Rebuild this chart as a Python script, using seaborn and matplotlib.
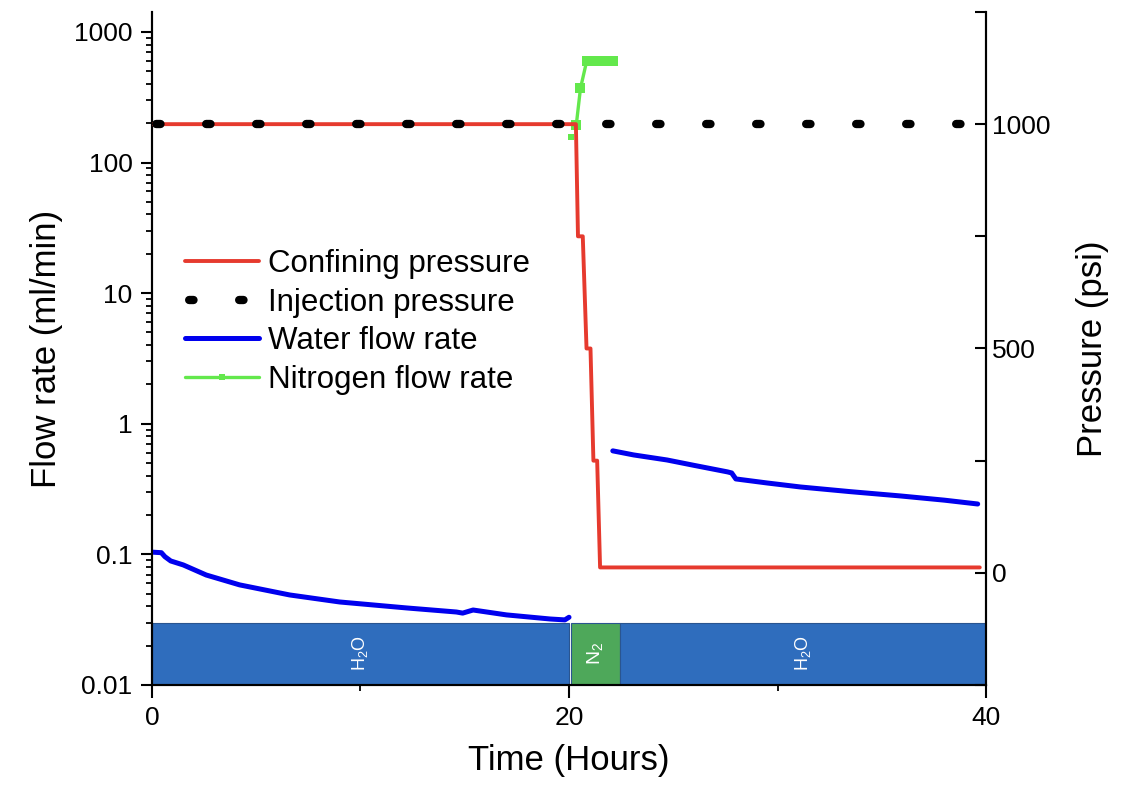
import numpy as np
import pandas as pd
import matplotlib
matplotlib.use("Agg")
import matplotlib.pyplot as plt
from matplotlib.lines import Line2D
from matplotlib.ticker import LogLocator, MultipleLocator, NullFormatter, FixedLocator
import seaborn as sns

# ---- data -------------------------------------------------------------
# water flow rate (ml/min), before and after the nitrogen stage
water_t1 = [0.0, 0.45, 0.62, 0.9, 1.5, 2.6, 4.2, 6.6, 9.0, 12.2, 14.6, 14.9,
            15.4, 17.0, 19.1, 19.8, 20.0]
water_q1 = [0.104, 0.103, 0.096, 0.089, 0.083, 0.0695, 0.0584, 0.0489, 0.0432,
            0.0389, 0.0362, 0.0355, 0.0375, 0.0344, 0.032, 0.0315, 0.033]
water_t2 = [22.1, 23.1, 24.7, 26.0, 27.6, 27.8, 28.0, 29.5, 31.1, 33.5, 35.9,
            38.0, 39.6]
water_q2 = [0.62, 0.577, 0.528, 0.48, 0.428, 0.42, 0.378, 0.352, 0.328, 0.302,
            0.280, 0.26, 0.243]

# nitrogen flow rate (ml/min)
nitrogen_t0 = [20.1]
nitrogen_q0 = [157]
nitrogen_t = [20.35, 20.55, 20.85, 21.1, 21.35, 21.6, 21.85, 22.1]
nitrogen_q = [195, 370, 600, 600, 600, 600, 600, 600]

# pressures (psi)
confining_t = [0.0, 20.33, 20.43, 20.66, 20.84, 21.03, 21.17, 21.35, 21.49, 39.7]
confining_p = [1000, 1000, 750, 750, 500, 500, 250, 250, 12, 12]
injection_t = [0.0, 40.0]
injection_p = [1000, 1000]

# injected fluid stages shown as a band along the bottom
phase_labels = [r"H$_\mathregular{2}$O", r"N$_\mathregular{2}$", r"H$_\mathregular{2}$O"]
phase_start = [0.0, 20.1, 22.45]
phase_end = [20.0, 22.45, 40.0]
phase_colors = ["#2f6dbd", "#4ea85a", "#2f6dbd"]
phase_fontsize = [13, 14, 13]

legend_labels = ["Confining pressure", "Injection pressure",
                 "Water flow rate", "Nitrogen flow rate"]

# ---- style ------------------------------------------------------------
sns.set_theme(style="ticks")
plt.rcParams["font.family"] = ["Liberation Sans", "DejaVu Sans"]
plt.rcParams["mathtext.fontset"] = "custom"
plt.rcParams["mathtext.rm"] = "Liberation Sans"
plt.rcParams["axes.linewidth"] = 1.5
plt.rcParams["text.color"] = "black"
plt.rcParams["axes.labelcolor"] = "black"
plt.rcParams["xtick.color"] = "black"
plt.rcParams["ytick.color"] = "black"
plt.rcParams["axes.edgecolor"] = "black"

RED = "#e63a2e"
BLUE = "#0000ee"
GREEN = "#63e84c"
BLACK = "#000000"
DOTS = (5.5, (0.52, 5.48))

fig = plt.figure(figsize=(11.3, 7.94), dpi=100)
fig.patch.set_facecolor("white")
ax = fig.add_axes([0.1345, 0.1373, 0.7381, 0.8476])
ax2 = ax.twinx()

# ---- stage band -------------------------------------------------------
widths = [e - s for s, e in zip(phase_start, phase_end)]
ax.bar(phase_start, [0.02] * 3, width=widths, bottom=0.01, align="edge",
       color=phase_colors, edgecolor="#2a5590", linewidth=0.8, zorder=1)
for lab, s, e, fs in zip(phase_labels, phase_start, phase_end, phase_fontsize):
    ax.text((s + e) / 2, 0.0175, lab, rotation=90, color="white",
            ha="center", va="center", fontsize=fs, zorder=3)

# ---- flow rates (left axis) ------------------------------------------
w1 = pd.DataFrame({"t": water_t1, "q": water_q1})
w2 = pd.DataFrame({"t": water_t2, "q": water_q2})
sns.lineplot(data=w1, x="t", y="q", ax=ax, color=BLUE, linewidth=3.6,
             estimator=None, sort=False, zorder=4)
sns.lineplot(data=w2, x="t", y="q", ax=ax, color=BLUE, linewidth=3.6,
             estimator=None, sort=False, zorder=4)

n0 = pd.DataFrame({"t": nitrogen_t0, "q": nitrogen_q0})
n1 = pd.DataFrame({"t": nitrogen_t, "q": nitrogen_q})
sns.lineplot(data=n0, x="t", y="q", ax=ax, color=GREEN, marker="s",
             markersize=5, markeredgewidth=0, linewidth=0, estimator=None,
             zorder=4)
sns.lineplot(data=n1, x="t", y="q", ax=ax, color=GREEN, marker="s",
             markersize=7, markeredgewidth=0, linewidth=2.4, estimator=None,
             sort=False, zorder=4)

# ---- pressures (right axis) -------------------------------------------
c = pd.DataFrame({"t": confining_t, "p": confining_p})
sns.lineplot(data=c, x="t", y="p", ax=ax2, color=RED, linewidth=2.8,
             estimator=None, sort=False, zorder=3)
inj = pd.DataFrame({"t": injection_t, "p": injection_p})
sns.lineplot(data=inj, x="t", y="p", ax=ax2, color=BLACK, linewidth=6,
             estimator=None, sort=False, zorder=4)
inj_line = ax2.get_lines()[-1]
inj_line.set_linestyle(DOTS)
inj_line.set_dash_capstyle("round")

# ---- axes -------------------------------------------------------------
ax.set_yscale("log")
ax.set_ylim(0.01, 1420)
ax.set_xlim(0, 40)
ax2.set_ylim(-250, 1250)

ax.set_xticks([0, 20, 40])
ax.xaxis.set_minor_locator(FixedLocator([10, 30]))
ax.set_yticks([0.01, 0.1, 1, 10, 100, 1000])
ax.set_yticklabels(["0.01", "0.1", "1", "10", "100", "1000"])
ax.yaxis.set_minor_locator(LogLocator(base=10, subs=np.arange(2, 10)))
ax.yaxis.set_minor_formatter(NullFormatter())

ax2.set_yticks([0, 500, 1000])
ax2.yaxis.set_minor_locator(MultipleLocator(250))

for a in (ax, ax2):
    a.spines["top"].set_visible(False)
    for sp in a.spines.values():
        sp.set_linewidth(1.5)
        sp.set_color("black")

ax.tick_params(axis="both", which="major", direction="out", length=8,
               width=1.5, labelsize=19, pad=6)
ax.tick_params(axis="y", which="minor", direction="out", length=4.5,
               width=1.3)
ax.tick_params(axis="x", which="minor", direction="out", length=4,
               width=1.3)
ax.tick_params(axis="x", which="major", length=9)
ax2.tick_params(axis="y", which="major", direction="in", length=8,
                width=1.5, labelsize=19, pad=4)
ax2.tick_params(axis="y", which="minor", direction="in", length=8,
                width=1.5)

ax.set_xlabel("Time (Hours)", fontsize=25, labelpad=10)
ax.set_ylabel("Flow rate (ml/min)", fontsize=25, labelpad=8)
ax2.set_ylabel("Pressure (psi)", fontsize=25, labelpad=19)

# ---- legend -----------------------------------------------------------
handles = [
    Line2D([], [], color=RED, linewidth=2.8),
    Line2D([], [], color=BLACK, linewidth=6, linestyle=DOTS,
           dash_capstyle="round"),
    Line2D([], [], color=BLUE, linewidth=3.6),
    Line2D([0, 1, 2], [0, 0, 0], color=GREEN, linewidth=2.4, marker="s",
           markersize=5, markeredgewidth=0, markevery=[1]),
]
leg = ax2.legend(handles, legend_labels, loc="upper left",
                 bbox_to_anchor=(0.04, 0.648), frameon=False, fontsize=22.5,
                 handlelength=2.35, handletextpad=0.3, labelspacing=0.28,
                 borderpad=0, borderaxespad=0)

fig.savefig("out.png", dpi=100, facecolor="white")
